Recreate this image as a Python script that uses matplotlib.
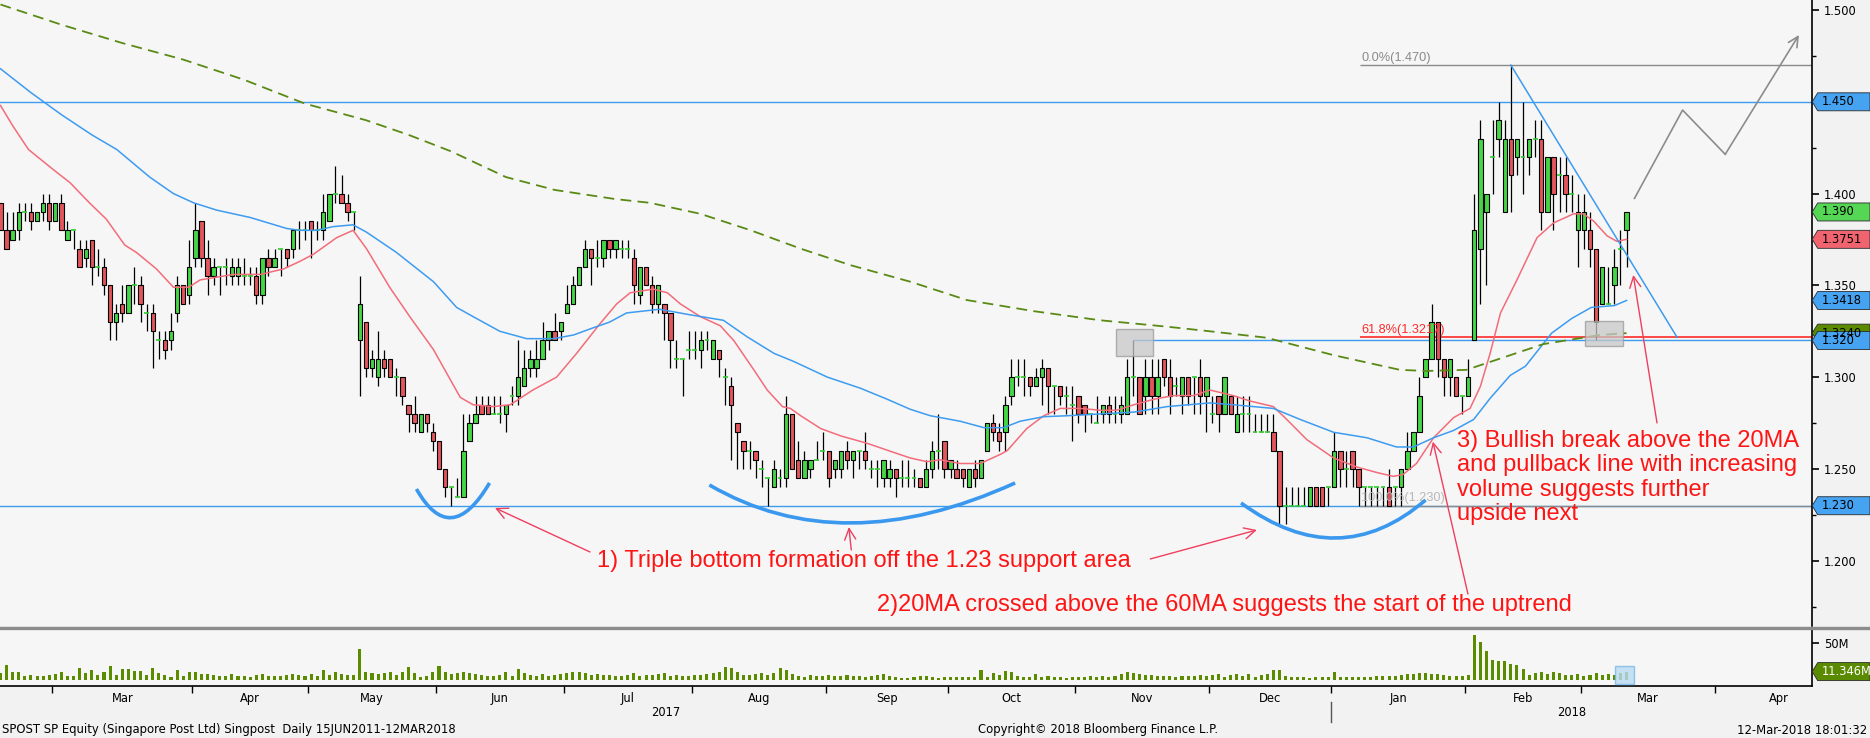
import numpy as np
import matplotlib.pyplot as plt
from matplotlib.patches import Polygon, Rectangle, PathPatch
from matplotlib.path import Path
from matplotlib.lines import Line2D
from matplotlib.transforms import IdentityTransform, blended_transform_factory

plt.rcParams['font.family'] = ['DejaVu Sans']

# daily candles, SPOST SP, mid Feb 2017 - 12 Mar 2018 (index = trading day)
opens = [
    1.395, 1.380, 1.375, 1.380, 1.390, 1.390, 1.385, 1.390, 1.395, 1.385,
    1.395, 1.375, 1.380, 1.370, 1.365, 1.375, 1.360, 1.360, 1.350, 1.330,
    1.340, 1.335, 1.350, 1.350, 1.335, 1.335, 1.320, 1.320, 1.320, 1.335,
    1.350, 1.345, 1.365, 1.385, 1.365, 1.355, 1.360, 1.360, 1.355, 1.355,
    1.355, 1.355, 1.355, 1.345, 1.365, 1.360, 1.370, 1.370, 1.370, 1.380,
    1.380, 1.385, 1.380, 1.380, 1.385, 1.400, 1.400, 1.395, 1.390, 1.320,
    1.330, 1.305, 1.300, 1.310, 1.310, 1.300, 1.300, 1.285, 1.280, 1.270,
    1.280, 1.270, 1.265, 1.250, 1.240, 1.235, 1.235, 1.265, 1.275, 1.285,
    1.285, 1.280, 1.280, 1.280, 1.290, 1.290, 1.295, 1.305, 1.305, 1.310,
    1.320, 1.325, 1.325, 1.335, 1.340, 1.350, 1.360, 1.370, 1.365, 1.365,
    1.375, 1.370, 1.370, 1.370, 1.365, 1.345, 1.360, 1.350, 1.340, 1.340,
    1.335, 1.310, 1.310, 1.315, 1.315, 1.315, 1.320, 1.310, 1.315, 1.300,
    1.295, 1.275, 1.265, 1.260, 1.260, 1.250, 1.245, 1.240, 1.245, 1.245,
    1.280, 1.255, 1.245, 1.250, 1.255, 1.260, 1.260, 1.250, 1.250, 1.260,
    1.255, 1.260, 1.260, 1.250, 1.250, 1.245, 1.245, 1.250, 1.245, 1.245,
    1.245, 1.245, 1.240, 1.250, 1.260, 1.265, 1.250, 1.250, 1.250, 1.240,
    1.250, 1.245, 1.260, 1.275, 1.270, 1.270, 1.290, 1.300, 1.300, 1.300,
    1.295, 1.300, 1.305, 1.295, 1.295, 1.290, 1.285, 1.290, 1.285, 1.280,
    1.275, 1.280, 1.285, 1.280, 1.280, 1.280, 1.300, 1.300, 1.290, 1.300,
    1.290, 1.310, 1.300, 1.295, 1.290, 1.300, 1.300, 1.300, 1.290, 1.280,
    1.290, 1.280, 1.290, 1.270, 1.280, 1.280, 1.270, 1.270, 1.270, 1.270,
    1.260, 1.230, 1.230, 1.230, 1.230, 1.230, 1.240, 1.240, 1.240, 1.240,
    1.260, 1.250, 1.260, 1.250, 1.240, 1.240, 1.240, 1.240, 1.240, 1.240,
    1.240, 1.250, 1.260, 1.270, 1.300, 1.310, 1.330, 1.310, 1.300, 1.300,
    1.290, 1.290, 1.320, 1.370, 1.390, 1.420, 1.430, 1.390, 1.430, 1.420,
    1.420, 1.420, 1.430, 1.430, 1.390, 1.420, 1.410, 1.410, 1.400, 1.380,
    1.380, 1.380, 1.370, 1.340, 1.340, 1.350, 1.370, 1.380,
]
highs = [
    1.395, 1.390, 1.390, 1.395, 1.395, 1.395, 1.390, 1.400, 1.400, 1.395,
    1.400, 1.385, 1.380, 1.375, 1.375, 1.375, 1.370, 1.365, 1.350, 1.340,
    1.350, 1.350, 1.360, 1.355, 1.340, 1.340, 1.325, 1.325, 1.335, 1.355,
    1.350, 1.375, 1.395, 1.385, 1.375, 1.365, 1.360, 1.365, 1.365, 1.365,
    1.365, 1.360, 1.360, 1.365, 1.370, 1.370, 1.370, 1.370, 1.380, 1.385,
    1.385, 1.385, 1.385, 1.400, 1.400, 1.415, 1.410, 1.400, 1.390, 1.355,
    1.330, 1.315, 1.325, 1.315, 1.310, 1.305, 1.300, 1.285, 1.290, 1.280,
    1.280, 1.275, 1.265, 1.250, 1.240, 1.245, 1.280, 1.280, 1.290, 1.290,
    1.290, 1.290, 1.290, 1.285, 1.295, 1.320, 1.315, 1.315, 1.320, 1.330,
    1.325, 1.335, 1.330, 1.350, 1.355, 1.360, 1.375, 1.370, 1.375, 1.375,
    1.375, 1.375, 1.375, 1.375, 1.370, 1.360, 1.360, 1.355, 1.350, 1.340,
    1.335, 1.320, 1.310, 1.325, 1.325, 1.325, 1.325, 1.320, 1.315, 1.305,
    1.300, 1.275, 1.265, 1.265, 1.260, 1.255, 1.245, 1.255, 1.250, 1.290,
    1.280, 1.265, 1.260, 1.255, 1.265, 1.270, 1.260, 1.255, 1.260, 1.265,
    1.260, 1.260, 1.270, 1.255, 1.255, 1.255, 1.255, 1.250, 1.255, 1.255,
    1.250, 1.245, 1.255, 1.265, 1.280, 1.265, 1.255, 1.255, 1.250, 1.250,
    1.255, 1.255, 1.275, 1.280, 1.275, 1.290, 1.310, 1.310, 1.310, 1.300,
    1.305, 1.310, 1.305, 1.295, 1.295, 1.295, 1.295, 1.290, 1.285, 1.280,
    1.290, 1.285, 1.290, 1.290, 1.290, 1.310, 1.320, 1.300, 1.310, 1.310,
    1.310, 1.310, 1.310, 1.300, 1.300, 1.300, 1.300, 1.310, 1.300, 1.290,
    1.290, 1.300, 1.290, 1.290, 1.290, 1.290, 1.280, 1.280, 1.280, 1.280,
    1.260, 1.240, 1.240, 1.240, 1.240, 1.240, 1.240, 1.240, 1.240, 1.270,
    1.260, 1.260, 1.260, 1.250, 1.240, 1.240, 1.240, 1.240, 1.250, 1.240,
    1.250, 1.270, 1.270, 1.300, 1.310, 1.340, 1.330, 1.310, 1.310, 1.300,
    1.290, 1.310, 1.400, 1.440, 1.400, 1.440, 1.450, 1.440, 1.470, 1.430,
    1.450, 1.430, 1.440, 1.440, 1.420, 1.420, 1.420, 1.420, 1.410, 1.400,
    1.400, 1.390, 1.370, 1.360, 1.360, 1.370, 1.380, 1.390,
]
lows = [
    1.380, 1.370, 1.375, 1.375, 1.385, 1.380, 1.385, 1.385, 1.380, 1.385,
    1.380, 1.375, 1.370, 1.360, 1.360, 1.350, 1.355, 1.345, 1.320, 1.320,
    1.330, 1.335, 1.340, 1.330, 1.325, 1.305, 1.310, 1.310, 1.315, 1.330,
    1.340, 1.340, 1.360, 1.360, 1.345, 1.350, 1.345, 1.350, 1.350, 1.350,
    1.350, 1.350, 1.340, 1.340, 1.355, 1.360, 1.355, 1.360, 1.365, 1.370,
    1.375, 1.365, 1.375, 1.375, 1.385, 1.395, 1.395, 1.385, 1.380, 1.290,
    1.300, 1.300, 1.295, 1.300, 1.300, 1.290, 1.285, 1.270, 1.270, 1.270,
    1.270, 1.260, 1.250, 1.235, 1.230, 1.235, 1.235, 1.265, 1.275, 1.280,
    1.280, 1.280, 1.275, 1.270, 1.285, 1.285, 1.295, 1.300, 1.300, 1.310,
    1.315, 1.320, 1.320, 1.335, 1.340, 1.350, 1.360, 1.350, 1.360, 1.360,
    1.365, 1.365, 1.365, 1.365, 1.340, 1.340, 1.350, 1.335, 1.335, 1.320,
    1.305, 1.305, 1.290, 1.310, 1.310, 1.305, 1.315, 1.310, 1.300, 1.285,
    1.255, 1.250, 1.250, 1.250, 1.245, 1.240, 1.230, 1.240, 1.240, 1.240,
    1.250, 1.245, 1.245, 1.245, 1.255, 1.255, 1.240, 1.245, 1.245, 1.250,
    1.245, 1.250, 1.250, 1.245, 1.240, 1.240, 1.240, 1.235, 1.240, 1.240,
    1.240, 1.240, 1.240, 1.245, 1.250, 1.245, 1.245, 1.245, 1.240, 1.240,
    1.240, 1.245, 1.260, 1.265, 1.260, 1.260, 1.285, 1.295, 1.290, 1.290,
    1.295, 1.285, 1.280, 1.280, 1.285, 1.280, 1.265, 1.275, 1.270, 1.275,
    1.275, 1.275, 1.275, 1.275, 1.275, 1.280, 1.290, 1.280, 1.280, 1.280,
    1.280, 1.295, 1.280, 1.290, 1.280, 1.285, 1.280, 1.280, 1.270, 1.275,
    1.270, 1.280, 1.280, 1.270, 1.270, 1.270, 1.270, 1.270, 1.270, 1.260,
    1.220, 1.220, 1.230, 1.230, 1.230, 1.230, 1.230, 1.230, 1.230, 1.240,
    1.240, 1.240, 1.240, 1.230, 1.230, 1.230, 1.230, 1.230, 1.230, 1.230,
    1.230, 1.250, 1.260, 1.270, 1.300, 1.310, 1.300, 1.290, 1.290, 1.290,
    1.280, 1.290, 1.320, 1.340, 1.350, 1.400, 1.420, 1.390, 1.390, 1.410,
    1.400, 1.410, 1.420, 1.380, 1.390, 1.380, 1.390, 1.390, 1.390, 1.360,
    1.370, 1.360, 1.320, 1.340, 1.340, 1.340, 1.350, 1.360,
]
closes = [
    1.380, 1.370, 1.380, 1.390, 1.390, 1.385, 1.390, 1.395, 1.385, 1.395,
    1.380, 1.380, 1.380, 1.360, 1.370, 1.360, 1.360, 1.350, 1.330, 1.335,
    1.335, 1.350, 1.350, 1.340, 1.335, 1.325, 1.320, 1.315, 1.325, 1.350,
    1.340, 1.360, 1.380, 1.365, 1.355, 1.360, 1.360, 1.360, 1.360, 1.360,
    1.355, 1.355, 1.345, 1.365, 1.360, 1.365, 1.370, 1.365, 1.380, 1.380,
    1.380, 1.380, 1.380, 1.390, 1.400, 1.400, 1.395, 1.390, 1.390, 1.340,
    1.305, 1.310, 1.310, 1.305, 1.300, 1.300, 1.290, 1.280, 1.275, 1.280,
    1.275, 1.265, 1.250, 1.240, 1.240, 1.235, 1.260, 1.275, 1.280, 1.280,
    1.280, 1.280, 1.280, 1.285, 1.290, 1.300, 1.305, 1.310, 1.310, 1.320,
    1.325, 1.320, 1.330, 1.340, 1.350, 1.360, 1.370, 1.365, 1.365, 1.375,
    1.370, 1.375, 1.370, 1.370, 1.350, 1.360, 1.350, 1.340, 1.350, 1.335,
    1.320, 1.310, 1.310, 1.315, 1.315, 1.320, 1.320, 1.320, 1.310, 1.300,
    1.285, 1.270, 1.260, 1.260, 1.255, 1.250, 1.245, 1.250, 1.245, 1.280,
    1.250, 1.245, 1.255, 1.255, 1.255, 1.260, 1.245, 1.255, 1.260, 1.255,
    1.260, 1.260, 1.255, 1.250, 1.250, 1.255, 1.250, 1.245, 1.245, 1.245,
    1.245, 1.240, 1.250, 1.260, 1.260, 1.250, 1.255, 1.245, 1.245, 1.250,
    1.245, 1.255, 1.275, 1.270, 1.265, 1.285, 1.300, 1.300, 1.300, 1.295,
    1.300, 1.305, 1.295, 1.295, 1.290, 1.290, 1.285, 1.280, 1.280, 1.280,
    1.275, 1.285, 1.280, 1.280, 1.285, 1.300, 1.300, 1.280, 1.300, 1.290,
    1.300, 1.300, 1.290, 1.295, 1.300, 1.290, 1.300, 1.290, 1.300, 1.280,
    1.280, 1.300, 1.280, 1.280, 1.280, 1.280, 1.270, 1.270, 1.270, 1.260,
    1.230, 1.230, 1.230, 1.230, 1.230, 1.240, 1.230, 1.230, 1.240, 1.260,
    1.250, 1.250, 1.250, 1.240, 1.240, 1.240, 1.240, 1.240, 1.230, 1.240,
    1.250, 1.260, 1.270, 1.290, 1.310, 1.330, 1.310, 1.300, 1.310, 1.290,
    1.290, 1.300, 1.380, 1.430, 1.400, 1.420, 1.440, 1.430, 1.410, 1.430,
    1.420, 1.430, 1.430, 1.390, 1.420, 1.400, 1.410, 1.400, 1.400, 1.390,
    1.390, 1.370, 1.330, 1.360, 1.340, 1.360, 1.370, 1.390,
]
# volume, millions of shares
volumes = [
    9.0, 20.3, 11.3, 10.4, 5.9, 6.8, 5.4, 5.9, 6.8, 7.7,
    10.4, 5.9, 5.4, 15.8, 9.0, 13.5, 6.8, 10.4, 18.9, 6.8,
    14.9, 14.9, 12.2, 12.2, 6.8, 15.8, 9.0, 6.8, 4.5, 13.5,
    5.9, 11.3, 10.4, 7.7, 7.7, 6.8, 5.9, 5.4, 7.7, 5.9,
    5.4, 4.5, 6.8, 7.7, 5.4, 5.4, 5.4, 6.8, 7.7, 6.8,
    5.9, 7.7, 5.9, 13.5, 6.8, 10.4, 7.7, 6.8, 6.8, 41.9,
    10.4, 9.0, 7.7, 9.0, 10.4, 6.8, 11.3,
    18.0, 9.0, 4.5, 5.9, 11.3, 18.9, 10.4, 7.7, 9.0, 11.3,
    9.0, 7.7, 6.8, 5.4, 5.4, 6.8, 10.4, 5.9, 14.4, 9.0,
    6.8, 5.9, 7.7, 5.4, 6.8, 7.7, 9.0, 10.4, 10.4, 9.0,
    6.8, 7.7, 6.8, 6.8, 5.4, 5.9, 6.8, 9.0, 5.9, 6.8,
    6.8, 7.7, 9.0, 5.9, 6.8, 5.9, 5.9, 6.8, 6.8, 7.7,
    9.0, 11.3, 18.0, 15.8, 10.4, 6.8, 6.8, 7.7, 9.0, 6.8,
    9.0, 15.8, 13.5, 7.7, 5.9, 4.5, 6.8, 5.4, 5.9, 6.8,
    5.9, 5.4, 6.8, 5.4, 5.4, 4.5, 5.9, 6.8, 7.7, 5.9,
    4.5, 3.2, 3.2, 4.5, 5.4,
    5.9, 4.5, 3.2, 3.6, 4.5, 3.6, 4.5, 3.6, 4.5, 13.5,
    3.6, 9.0, 6.8, 12.6, 10.4, 5.4, 4.5, 4.5, 7.7, 4.5,
    5.9, 3.6, 4.5, 3.2, 4.5, 3.6, 4.5, 5.4, 4.5, 5.9,
    4.5, 5.9, 7.7, 10.4, 9.0, 7.7, 6.8, 6.8, 5.9, 5.4,
    5.9, 4.5, 5.4, 5.9, 5.9, 6.8, 5.9, 6.8, 7.7, 4.5,
    6.8, 7.7, 5.9, 7.7, 4.5, 6.8, 7.7, 13.5, 13.5, 5.9,
    4.5, 4.5, 4.5, 3.2, 4.5, 4.5, 4.5, 10.4, 4.5, 4.5,
    3.6, 4.5, 4.5, 4.5, 5.4, 5.4, 5.4, 5.9, 6.8, 7.7,
    7.7, 9.0, 9.0, 7.7, 7.7, 6.8, 5.9, 5.9, 5.9, 6.8,
    61.0, 52.0, 39.2, 27.0, 26.1, 26.1, 21.2, 20.3, 14.9, 6.8,
    9.0, 10.4, 7.7, 10.4, 9.0, 6.8, 6.8, 7.7, 5.9, 6.8,
    9.0, 6.8, 7.7, 6.8, 9.0, 11.346,
]

# moving averages (day index, value)
ma20_day = [0, 2, 4.6, 8.7, 11.4, 14.6, 17.4, 20.4, 22.3, 25.6, 28.4, 30.9, 32.8, 38.3,
            42.7, 46.5, 49.1, 51.4, 55.2, 57.9, 60.1, 63.9, 67.2, 71.1, 73.8, 75.5, 77.6,
            80.9, 83.7, 87.4, 91.3, 94.6, 98.4, 101.2, 103.4, 107.2, 109.5, 111.6, 114.9,
            118.2, 120.4, 123.7, 125.9, 128.4, 129.7, 131.4, 134.7, 138.0, 142.3, 146.7,
            149.4, 152.1, 154.3, 157.6, 160.9, 164.2, 165.3, 168.5, 171.3, 174.0, 177.3,
            180.6, 183.3, 186.1, 189.4, 192.6, 195.9, 198.6, 202.4, 205.2, 209.0, 211.2,
            214.5, 218.9, 222.8, 226.1, 228.7, 230.3, 232.5, 235.3, 238.6, 241.3, 243.0,
            244.6, 246.3, 249.0, 252.3, 255.0, 258.3, 259.9, 261.6, 263.8, 265.4, 267]
ma20_val = [1.448, 1.437, 1.424, 1.413, 1.406, 1.395, 1.386, 1.372, 1.368, 1.359, 1.349,
            1.349, 1.353, 1.356, 1.356, 1.359, 1.363, 1.367, 1.376, 1.380, 1.370, 1.349,
            1.333, 1.315, 1.299, 1.289, 1.285, 1.284, 1.285, 1.293, 1.300, 1.313, 1.329,
            1.340, 1.346, 1.348, 1.346, 1.340, 1.333, 1.328, 1.320, 1.304, 1.293, 1.284,
            1.283, 1.279, 1.272, 1.268, 1.264, 1.259, 1.256, 1.254, 1.255, 1.253, 1.253,
            1.258, 1.260, 1.272, 1.279, 1.283, 1.283, 1.282, 1.282, 1.285, 1.288, 1.290,
            1.290, 1.293, 1.290, 1.287, 1.284, 1.277, 1.266, 1.256, 1.251, 1.248, 1.246,
            1.247, 1.253, 1.267, 1.278, 1.283, 1.295, 1.313, 1.335, 1.353, 1.376, 1.384,
            1.389, 1.389, 1.385, 1.377, 1.374, 1.3751]
ma60_day = [0, 5, 10, 15, 19.1, 24.5, 28.4, 31.7, 35.5, 41.0, 47.0, 49.1, 51.9, 54.6,
            57.9, 60.1, 65.0, 71.1, 74.9, 77.6, 82.0, 86.4, 90.8, 94.1, 97.4, 100.0,
            102.8, 108.2, 113.2, 118.7, 122.6, 127.0, 130.3, 135.8, 141.2, 145.6, 149.4,
            152.7, 157.6, 161.5, 164.7, 167.4, 171.3, 175.1, 180.6, 186.1, 191.6, 198.6,
            202.4, 209.0, 213.4, 218.9, 224.4, 229.2, 232.0, 235.3, 238.6, 241.9, 244.6,
            247.9, 250.4, 254.7, 258.0, 261.2, 265.0, 267]
ma60_val = [1.468, 1.455, 1.443, 1.432, 1.424, 1.409, 1.400, 1.395, 1.391, 1.387, 1.381,
            1.380, 1.380, 1.382, 1.383, 1.379, 1.368, 1.352, 1.338, 1.333, 1.325, 1.321,
            1.321, 1.323, 1.327, 1.330, 1.335, 1.337, 1.334, 1.331, 1.322, 1.313, 1.3085,
            1.300, 1.294, 1.288, 1.2825, 1.279, 1.276, 1.2725, 1.2725, 1.276, 1.2785,
            1.279, 1.280, 1.281, 1.284, 1.286, 1.285, 1.283, 1.277, 1.270, 1.267, 1.262,
            1.262, 1.267, 1.271, 1.277, 1.2885, 1.301, 1.306, 1.324, 1.332, 1.338, 1.339,
            1.3418]
ma200_day = [0, 10, 20, 30, 40, 50, 60, 67, 74, 83, 91, 101, 106.6, 114.9, 123.2, 131.4,
             139.6, 149.4, 158.7, 169.6, 180.6, 191.6, 198.6, 207.9, 218.9, 229.8, 234.1,
             240.7, 247.9, 253.3, 262.6, 267]
ma200_val = [1.503, 1.492, 1.482, 1.473, 1.462, 1.449, 1.440, 1.432, 1.423, 1.409, 1.402,
             1.397, 1.395, 1.389, 1.380, 1.370, 1.361, 1.352, 1.342, 1.336, 1.331, 1.3275,
             1.325, 1.3215, 1.312, 1.304, 1.3034, 1.304, 1.312, 1.318, 1.323, 1.324]

# x axis: month boundaries (in day index) and labels
month_bounds = [8.5, 31.5, 50.5, 71.5, 92.5, 113.5, 135.5, 155.5, 176.5, 198.5,
                218.5, 240.5, 259.5, 281.5, 302.5]
month_names = ['Mar', 'Apr', 'May', 'Jun', 'Jul', 'Aug', 'Sep', 'Oct', 'Nov', 'Dec',
               'Jan', 'Feb', 'Mar', 'Apr']
year_names = ['2017', '2018']

# levels
resistance = 1.450
support = 1.230
breakout_level = 1.320
fib_top, fib_618, fib_bottom = 1.470, 1.3217, 1.230

# ---------------------------------------------------------------- layout
W, H = 1870, 738
GREEN, RED = '#45d645', '#e2555b'
BLUE = '#3d9bf0'
TXT_RED = '#ff1414'
ARROW_RED = '#ef3f5f'

fig = plt.figure(figsize=(W / 100, H / 100), dpi=100, facecolor='#f2f2f2')
ax = fig.add_axes([0, (H - 626) / H, 1811.7 / W, 626 / H], facecolor='#f6f6f6')
axv = fig.add_axes([0, (H - 686) / H, 1811.7 / W, 57 / H], facecolor='#f6f6f6', sharex=ax)

XMIN, XMAX = -0.08, 297.4
ax.set_xlim(XMIN, XMAX)
ax.set_ylim(1.16449, 1.50545)
axv.set_ylim(-8.1, 68.9)

o = np.array(opens); h = np.array(highs); l = np.array(lows); c = np.array(closes)
idx = np.arange(len(c))
up, dn, flat = c > o, c < o, c == o

# candles
ax.vlines(idx, l, h, color='black', lw=0.9, zorder=3)
ax.bar(idx[up], (c - o)[up], bottom=o[up], width=0.72, color=GREEN,
       edgecolor='black', lw=0.8, zorder=4)
ax.bar(idx[dn], (o - c)[dn], bottom=c[dn], width=0.72, color=RED,
       edgecolor='black', lw=0.8, zorder=4)
ax.hlines(c[flat], idx[flat] - 0.4, idx[flat] + 0.4, color='#30cc30', lw=1.2, zorder=4)

# moving averages
ax.plot(ma20_day, ma20_val, color='#f26c7a', lw=1.1, zorder=5)
ax.plot(ma60_day, ma60_val, color=BLUE, lw=1.1, zorder=5)
ax.plot(ma200_day, ma200_val, color='#5a8a14', lw=1.3, ls=(0, (6, 3.5)), zorder=5)

# horizontal levels
ax.axhline(resistance, color=BLUE, lw=1.0, zorder=2)
ax.axhline(support, color=BLUE, lw=1.0, zorder=2)
peak_day = int(np.argmax(h))
break_day = 186
ax.hlines(breakout_level, break_day, XMAX, color=BLUE, lw=1.0, zorder=2)

# fibonacci retracement
fib_start = 223.2
ax.hlines([fib_top, fib_bottom], fib_start, XMAX, color='#8a8a8a', lw=1.0, zorder=2)
ax.hlines(fib_618, fib_start, XMAX, color='#ff2a2a', lw=1.2, zorder=2)
fib_kw = dict(fontsize=9.2, family='Liberation Sans', va='bottom', ha='left', zorder=6)
ax.text(fib_start + 0.2, fib_top + 0.0008, '0.0%(1.470)', color='#8a8a8a', **fib_kw)
ax.text(fib_start + 0.2, fib_618 + 0.0008, '61.8%(1.3217)', color='#ff2a2a', **fib_kw)
ax.text(fib_start + 0.2, fib_bottom + 0.0008, '100.0%(1.230)', color='#b8b8b8', **fib_kw)

# pullback trend line from the peak
trend_end = (275.3, fib_618)
ax.plot([peak_day, trend_end[0]], [h[peak_day], trend_end[1]], color=BLUE, lw=1.1, zorder=5)

# highlight boxes
for (x0, x1, y0, y1) in [(183.1, 189.2, 1.3115, 1.3263), (260.2, 266.4, 1.3170, 1.3306)]:
    ax.add_patch(Rectangle((x0, y0), x1 - x0, y1 - y0, fc='#c8c8c8', ec='#9a9a9a',
                           lw=1, alpha=0.75, zorder=6))

# cup shaped arcs under the three bottoms
arcs = [[(68.3, 1.2391), (74.1, 1.2235), (80.3, 1.2424)],
        [(116.4, 1.2413), (139.8, 1.2206), (166.6, 1.2424)],
        [(203.7, 1.2315), (219.3, 1.2124), (234.0, 1.2331)]]
for p0, pm, p2 in arcs:
    p0, pm, p2 = map(np.array, (p0, pm, p2))
    ctrl = 2 * pm - (p0 + p2) / 2
    path = Path([p0, ctrl, p2], [Path.MOVETO, Path.CURVE3, Path.CURVE3])
    ax.add_patch(PathPatch(path, fc='none', ec='#3a98ee', lw=2.6, zorder=6))

# projected path
proj_day = [268.3, 276.2, 283.2, 295.3]
proj_val = [1.3974, 1.4455, 1.4214, 1.4864]
ax.plot(proj_day[:3], proj_val[:3], color='#8c8c8c', lw=1.2, zorder=6)
ax.annotate('', xy=(proj_day[3], proj_val[3]), xytext=(proj_day[2], proj_val[2]),
            arrowprops=dict(arrowstyle='->', color='#8c8c8c', lw=1.2,
                            mutation_scale=18, shrinkA=0, shrinkB=0), zorder=6)

# annotation arrows (tail -> head)
arrows = [((96.8, 1.2048), (81.2, 1.2288)),
          ((139.7, 1.2059), (139.3, 1.2184)),
          ((188.8, 1.2010), (206.3, 1.2168)),
          ((240.96, 1.1819), (235.2, 1.2649)),
          ((272.0, 1.2751), (268.1, 1.3557))]
for tail, head in arrows:
    ax.annotate('', xy=head, xytext=tail,
                arrowprops=dict(arrowstyle='->', color=ARROW_RED, lw=1.0,
                                mutation_scale=20, shrinkA=0, shrinkB=0), zorder=7)

note_kw = dict(color=TXT_RED, fontsize=17, family='Liberation Sans', zorder=7)
ax.text(97.9, 1.1999, '1) Triple bottom formation off the 1.23 support area',
        va='center', ha='left', **note_kw)
ax.text(143.9, 1.1759, '2)20MA crossed above the 60MA suggests the start of the uptrend',
        va='center', ha='left', **note_kw)
ax.text(239.2, 1.2454, '3) Bullish break above the 20MA\nand pullback line with increasing\n'
        'volume suggests further\nupside next', va='center', ha='left',
        linespacing=1.15, **note_kw)

# volume
axv.bar(idx, volumes, width=0.5, color='#5b8c00', zorder=3)
axv.add_patch(Rectangle((265.1, -5.4), 3.1, 24.3, fc='#b9dbf3', ec='#7ab8e8',
                        lw=1, alpha=0.8, zorder=4))

# axes cosmetics
for a in (ax, axv):
    a.yaxis.tick_right()
    for s in ('top', 'left'):
        a.spines[s].set_visible(False)
    a.spines['right'].set_color('black')
    a.spines['right'].set_linewidth(1.2)
ax.spines['bottom'].set_visible(False)
axv.spines['bottom'].set_color('black')
axv.spines['bottom'].set_linewidth(1.2)

ax.set_yticks(np.arange(1.20, 1.501, 0.05))
ax.set_yticks(np.arange(1.175, 1.49, 0.05), minor=True)
ax.set_yticklabels([f'{v:.3f}' for v in np.arange(1.20, 1.501, 0.05)])
ax.tick_params(axis='y', which='major', length=5, width=1.2, pad=4, labelsize=8.3)
ax.tick_params(axis='y', which='minor', length=3, width=1)
ax.tick_params(axis='x', which='both', bottom=False, labelbottom=False)

axv.set_yticks([50])
axv.set_yticklabels(['50M'])
axv.tick_params(axis='y', length=5, width=1.2, pad=4, labelsize=8.3)

centers = [(month_bounds[k] + month_bounds[k + 1]) / 2 for k in range(len(month_names))]
axv.set_xticks(month_bounds)
axv.set_xticklabels([''] * len(month_bounds))
axv.set_xticks(centers, minor=True)
axv.set_xticklabels(month_names, minor=True)
axv.tick_params(axis='x', which='major', length=5, width=1, direction='out')
axv.tick_params(axis='x', which='minor', length=0, pad=4, labelsize=8.3)
ax.set_xlim(XMIN, XMAX)

# year labels and separator
jan = month_bounds[10]
btr = blended_transform_factory(axv.transData, fig.transFigure)
axv.text((XMIN + jan) / 2, 1 - 712 / H, year_names[0], transform=btr, ha='center',
         va='center', fontsize=8.3)
axv.text((jan + XMAX) / 2, 1 - 712 / H, year_names[1], transform=btr, ha='center',
         va='center', fontsize=8.3)
axv.add_line(Line2D([jan, jan], [1 - 702 / H, 1 - 722 / H], transform=btr,
                    color='#555555', lw=1, clip_on=False))

# panel separator
fig.add_artist(Line2D([0, 1], [1 - 627.5 / H] * 2, transform=fig.transFigure,
                      color='#8c8c8c', lw=2.4))

# footer
fig.text(2 / W, 1 - 730 / H, 'SPOST SP Equity (Singapore Post Ltd) Singpost  Daily 15JUN2011-12MAR2018',
         fontsize=8.4, va='center', ha='left')
fig.text(978 / W, 1 - 730 / H, 'Copyright\u00a9 2018 Bloomberg Finance L.P.',
         fontsize=8.4, va='center', ha='left')
fig.text(1867 / W, 1 - 730 / H, '12-Mar-2018 18:01:32', fontsize=8.4, va='center', ha='right')

# value tags on the right scale
x_spine = 1811.7


def tag(axis, value, label, fc, tc='black'):
    y = axis.transData.transform((0, value))[1]
    pts = [(x_spine + 0.5, y), (x_spine + 6, y + 9), (W, y + 9), (W, y - 9), (x_spine + 6, y - 9)]
    fig.add_artist(Polygon(pts, closed=True, transform=IdentityTransform(), fc=fc,
                           ec='#2a2a2a', lw=0.6, zorder=5))
    fig.text((x_spine + 10) / W, y / H, label, color=tc, fontsize=8.3, va='center',
             ha='left', zorder=6)


tag(ax, resistance, f'{resistance:.3f}', '#45a3f2')
tag(ax, c[-1], f'{c[-1]:.3f}', '#55d655')
tag(ax, ma20_val[-1], f'{ma20_val[-1]:.4f}', '#f06470')
tag(ax, ma60_val[-1], f'{ma60_val[-1]:.4f}', '#45a3f2')
tag(ax, ma200_val[-1], f'{ma200_val[-1]:.4f}', '#5a8a00')
tag(ax, breakout_level, f'{breakout_level:.3f}', '#45a3f2')
tag(ax, support, f'{support:.3f}', '#45a3f2')
tag(axv, volumes[-1], f'{volumes[-1]:.3f}M', '#5a8a00', tc='white')

fig.savefig('out.png', dpi=100, facecolor=fig.get_facecolor())
